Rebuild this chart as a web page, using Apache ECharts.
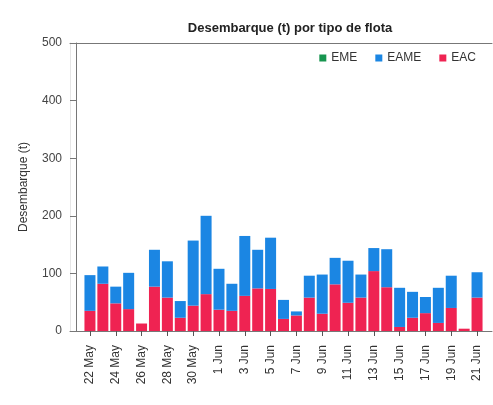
<!DOCTYPE html>
<html>
<head>
<meta charset="utf-8">
<script src="https://cdn.jsdelivr.net/npm/echarts@6/dist/echarts.min.js"></script>
<style>html,body{margin:0;padding:0;background:#fff;}#c{width:493px;height:405px;}</style>
</head>
<body>
<div id="c"></div>
<script>
const categories = ['22 May','23 May','24 May','25 May','26 May','27 May','28 May','29 May','30 May','31 May',
  '1 Jun','2 Jun','3 Jun','4 Jun','5 Jun','6 Jun','7 Jun','8 Jun','9 Jun','10 Jun',
  '11 Jun','12 Jun','13 Jun','14 Jun','15 Jun','16 Jun','17 Jun','18 Jun','19 Jun','20 Jun','21 Jun'];
const eacValues = [35,82,48,38,13,77,58,23,44,64,
  37,35,61,74,73,21,27,58,30,81,
  49,58,104,76,7,23,31,14,40,4,58];
const eameValues = [62,30,29,63,0,64,63,29,113,136,
  71,47,104,67,89,33,7,38,68,46,
  73,40,40,66,68,45,28,61,56,0,44];
const emeValues = [0,0,0,0,0,0,0,0,0,0,0,0,0,0,0,0,0,0,0,0,0,0,0,0,0,0,0,0,0,0,0];
const yTicks = [0,100,200,300,400,500];

const font = 'Liberation Sans, Arial, sans-serif';
const chart = echarts.init(document.getElementById('c'), null, {renderer:'canvas'});
chart.setOption({
  animation:false,
  backgroundColor:'#fff',
  title:{text:'Desembarque (t) por tipo de flota', left:285, top:17, textAlign:'center',
    textStyle:{fontFamily:font, fontSize:13, fontWeight:'bold', color:'#222'}},
  legend:{data:['EME','EAME','EAC'], right:12, top:47, itemWidth:7, itemHeight:7, itemGap:18,
    icon:'rect', textStyle:{fontFamily:font, fontSize:12, color:'#333'}},
  grid:[
    {left:83.5, right:9.5, top:43, bottom:74},
    {left:70, right:1, top:43, bottom:74}
  ],
  xAxis:[
    {type:'category', gridIndex:0, data:categories, boundaryGap:true,
      axisLine:{show:false},
      axisTick:{show:true, alignWithLabel:true, interval:1, length:5, lineStyle:{color:'#555'}},
      axisLabel:{interval:1, rotate:90, margin:14, fontFamily:font, fontSize:12, color:'#333'}},
    {type:'value', gridIndex:1, position:'bottom', min:0, max:1, show:true,
      axisLine:{show:true, lineStyle:{color:'#777'}}, axisTick:{show:false}, axisLabel:{show:false}, splitLine:{show:false}},
    {type:'value', gridIndex:1, position:'top', min:0, max:1, show:true,
      axisLine:{show:true, lineStyle:{color:'#777'}}, axisTick:{show:false}, axisLabel:{show:false}, splitLine:{show:false}}
  ],
  yAxis:[
    {type:'value', gridIndex:0, min:yTicks[0], max:yTicks[yTicks.length-1], interval:100, offset:7.5,
      name:'Desembarque (t)', nameLocation:'middle', nameGap:46,
      nameTextStyle:{fontFamily:font, fontSize:12, color:'#333'},
      axisLine:{show:true, lineStyle:{color:'#777'}},
      axisTick:{show:true, length:6, lineStyle:{color:'#777'}},
      axisLabel:{margin:14, fontFamily:font, fontSize:12, color:'#444'},
      splitLine:{show:false}},
    {type:'value', gridIndex:1, position:'right', min:0, max:1, show:true,
      axisLine:{show:true, lineStyle:{color:'#e6e6e6'}}, axisTick:{show:false}, axisLabel:{show:false}, splitLine:{show:false}}
  ],
  series:[
    {name:'EAC', type:'bar', stack:'t', xAxisIndex:0, yAxisIndex:0, data:eacValues, barWidth:11,
      itemStyle:{color:'#EF2352'}},
    {name:'EAME', type:'bar', stack:'t', xAxisIndex:0, yAxisIndex:0, data:eameValues, barWidth:11,
      itemStyle:{color:'#1B86E3'}},
    {name:'EME', type:'bar', stack:'t', xAxisIndex:0, yAxisIndex:0, data:emeValues, barWidth:11,
      itemStyle:{color:'#17954F'}}
  ]
});
</script>
</body>
</html>
